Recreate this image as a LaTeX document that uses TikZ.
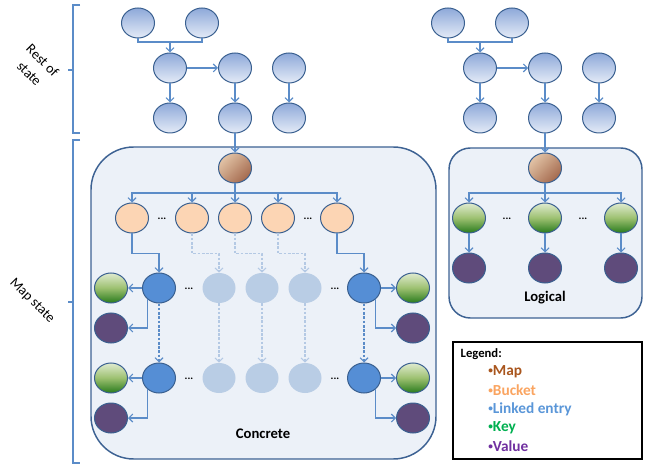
\documentclass[tikz,border=0pt]{standalone}
\usepackage{fontspec}
\setmainfont{Carlito}
\usetikzlibrary{shapes.geometric,arrows.meta}
\definecolor{edgeblue}{HTML}{3A6090}
\definecolor{lineblue}{HTML}{5B8CC8}
\definecolor{ghostline}{HTML}{B4C9E4}
\definecolor{boxedge}{HTML}{3D6293}
\definecolor{boxfill}{HTML}{ECF1F8}
\definecolor{restA}{HTML}{8EA9D9}
\definecolor{restB}{HTML}{E4EBF7}
\definecolor{mapA}{HTML}{E2C3A6}
\definecolor{mapB}{HTML}{A46A4E}
\definecolor{bucketC}{HTML}{FCD5B4}
\definecolor{entryC}{HTML}{558ED5}
\definecolor{ghostC}{HTML}{B9CDE5}
\definecolor{keyA}{HTML}{E0EBD0}
\definecolor{keyM}{HTML}{9CC070}
\definecolor{keyB}{HTML}{287A1C}
\definecolor{valC}{HTML}{5F4B7B}
\definecolor{legMap}{HTML}{A9561E}
\definecolor{legBucket}{HTML}{FAA460}
\definecolor{legEntry}{HTML}{5A96D8}
\definecolor{legKey}{HTML}{00B050}
\definecolor{legVal}{HTML}{7030A0}
\tikzset{
  >={Straight Barb[length=3pt,width=6pt]},
  nd/.style={ellipse, minimum width=24.75pt, minimum height=22.5pt, inner sep=0pt, draw=edgeblue, line width=0.75pt},
  rest/.style={nd, top color=restA, bottom color=restB},
  mapn/.style={nd, top color=mapA, bottom color=mapB, shading angle=45},
  bucket/.style={nd, fill=bucketC},
  entry/.style={nd, fill=entryC},
  ghost/.style={ellipse, minimum width=24.75pt, minimum height=22.5pt, inner sep=0pt, fill=ghostC},
  keyn/.style={nd, top color=keyA, bottom color=keyB, middle color=keyM},
  valn/.style={nd, fill=valC},
  conn/.style={draw=lineblue, line width=0.8pt, ->},
  fine dash/.style={dash pattern=on 2pt off 1.2pt},
  ghostconn/.style={draw=ghostline, line width=0.8pt, fine dash, ->},
  box/.style={draw=boxedge, fill=boxfill, line width=1.1pt},
  dots/.style={font=\fontsize{8}{8}\selectfont\bfseries, inner sep=0pt},
  title/.style={font=\fontsize{11}{13}\selectfont\bfseries},
  side/.style={rotate=-45, align=center, font=\fontsize{10.5}{14}\selectfont},
}
\begin{document}
\begin{tikzpicture}[x=0.75pt,y=-0.75pt]
  \useasboundingbox (0,0) rectangle (645,466);
  % brackets and side labels
  \draw[lineblue, line width=0.8pt] (80,5) -- (73,5) -- (73,133) -- (80,133);
  \draw[lineblue, line width=0.8pt] (73,70) -- (68,70);
  \draw[lineblue, line width=0.8pt] (80,140) -- (73,140) -- (73,463) -- (80,463);
  \draw[lineblue, line width=0.8pt] (73,302) -- (68,302);
  \node[side] (rest) at (36,67) {Rest of\\state};
  \node[side] (mapstate) at (32,301) {Map state};
  % the two containers
  \draw[box, rounded corners=32pt] (91,147) rectangle (436,459);
  \draw[box, rounded corners=16pt] (449,148) rectangle (642,318);
  % rest of state, once for each side
  \foreach \g/\dx in {L/0,R/310}{
    \node[rest] (\g-a1) at (138+\dx,23) {};
    \node[rest] (\g-a2) at (202+\dx,23) {};
    \node[rest] (\g-b1) at (170+\dx,68) {};
    \node[rest] (\g-b2) at (235+\dx,68) {};
    \node[rest] (\g-b3) at (289+\dx,68) {};
    \node[rest] (\g-c1) at (170+\dx,118) {};
    \node[rest] (\g-c2) at (235+\dx,118) {};
    \node[rest] (\g-c3) at (289+\dx,118) {};
    \coordinate (\g-j) at (170+\dx,42);
    \draw[conn,-] (\g-a1.south) |- (\g-j) -| (\g-a2.south);
    \draw[conn] (\g-j) -- (\g-b1.north);
    \draw[conn] (\g-b1) -- (\g-b2);
    \foreach \i in {1,2,3}
      \draw[conn] (\g-b\i) -- (\g-c\i);
  }
  % concrete map
  \node[mapn] (m) at (235,168) {};
  \draw[conn] (L-c2) -- (m);
  \foreach \x [count=\i] in {132,192,235,278,337}
    \node[bucket] (b\i) at (\x,218) {};
  \coordinate (mj) at (235,193);
  \draw[conn,-] (m) -- (mj);
  \foreach \i in {1,...,5}
    \draw[conn] (mj) -| (b\i.north);
  \node[dots] (db1) at (162,219) {...};
  \node[dots] (db2) at (308,219) {...};
  \foreach \r/\y in {1/288,2/378}{
    \node[entry] (e\r-1) at (159,\y) {};
    \node[entry] (e\r-5) at (364,\y) {};
    \foreach \x [count=\i from 2] in {219,262,305}
      \node[ghost] (e\r-\i) at (\x,\y) {};
    \node[keyn] (k\r-1) at (111,\y) {};
    \node[valn] (v\r-1) at (111,\y+40) {};
    \node[keyn] (k\r-5) at (413,\y) {};
    \node[valn] (v\r-5) at (413,\y+40) {};
    \node[dots] (de\r-1) at (189,\y+1) {...};
    \node[dots] (de\r-5) at (335,\y+1) {...};
    \draw[conn] (e\r-1) -- (k\r-1);
    \draw[conn] (e\r-1.225) |- (v\r-1.east);
    \draw[conn] (e\r-5) -- (k\r-5);
    \draw[conn] (e\r-5.-45) |- (v\r-5.west);
  }
  \foreach \i in {1,5}{
    \draw[conn] (b\i.south) -- ++(0,20) -| (e1-\i.north);
    \draw[conn,fine dash] (e1-\i) -- (e2-\i);
  }
  \foreach \i in {2,3,4}{
    \draw[ghostconn] (b\i.south) -- ++(0,20) -| (e1-\i.north);
    \draw[ghostconn] (e1-\i) -- (e2-\i);
  }
  \node[title] (concrete) at (263,434) {Concrete};
  % logical map
  \node[mapn] (lm) at (545,168) {};
  \draw[conn] (R-c2) -- (lm);
  \coordinate (lj) at (545,193);
  \draw[conn,-] (lm) -- (lj);
  \foreach \x [count=\i] in {469,545,621}{
    \node[keyn] (lk\i) at (\x,218) {};
    \node[valn] (lv\i) at (\x,268) {};
    \draw[conn] (lj) -| (lk\i.north);
    \draw[conn] (lk\i) -- (lv\i);
  }
  \node[dots] (dl1) at (507,219) {...};
  \node[dots] (dl2) at (583,219) {...};
  \node[title] (logical) at (545,298) {Logical};
  % legend
  \draw[line width=0.8pt] (453,342) rectangle (642,459);
  \node[anchor=west, font=\fontsize{9.5}{11}\selectfont\bfseries] (legend) at (456,354) {Legend:};
  \foreach \t/\c [count=\i] in {Map/legMap,Bucket/legBucket,Linked entry/legEntry,Key/legKey,Value/legVal}
    \node[anchor=west, text=\c, font=\fontsize{11.5}{14}\selectfont\bfseries, inner sep=0pt] (leg\i) at (488,353+18.7*\i) {\raisebox{1.6pt}{\fontsize{7}{8}\selectfont\textbullet}\t};
\end{tikzpicture}
\end{document}
